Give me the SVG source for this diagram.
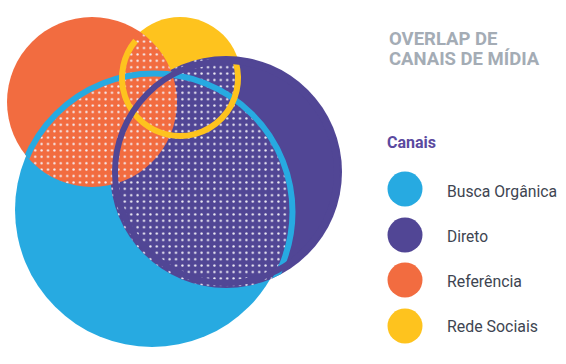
<svg xmlns="http://www.w3.org/2000/svg" width="566" height="364" viewBox="0 0 566 364">
  <defs>
    <style>
      .title{font-family:Roboto,"Liberation Sans",sans-serif;font-weight:700;font-size:18.5px;fill:#A4ACB5}
      .head{font-family:Roboto,"Liberation Sans",sans-serif;font-weight:700;font-size:16px;fill:#5B4A9F}
      .lbl{font-family:Roboto,"Liberation Sans",sans-serif;font-size:17px;fill:#3E4551}
      .arc{fill:none;stroke-width:6}
    </style>
    <pattern id="dots" x="0" y="0" width="6.4" height="6.4" patternUnits="userSpaceOnUse">
      <circle cx="3.2" cy="3.2" r="1.15" fill="#F4F2F8"/>
    </pattern>
    <clipPath id="cpOP">
      <circle cx="92" cy="102" r="85"/>
      <circle cx="226" cy="172" r="116"/>
    </clipPath>
    <clipPath id="cpBY">
      <circle cx="154" cy="212" r="135.5"/>
      <circle cx="180" cy="78" r="58"/>
    </clipPath>
  </defs>

  <g id="venn">
    <circle id="busca" cx="152" cy="210" r="137" fill="#27AAE1"/>
    <circle id="rede" cx="180" cy="78" r="61" fill="#FEC31E"/>
    <circle id="direto" cx="226" cy="172" r="116" fill="#514695"/>
    <circle id="referencia" cx="92" cy="102" r="85" fill="#F26C40"/>
    <g id="overlap" clip-path="url(#cpOP)">
      <rect x="0" y="0" width="360" height="364" fill="url(#dots)" clip-path="url(#cpBY)"/>
    </g>
    <g id="outlines">
      <g clip-path="url(#cpOP)">
        <circle class="arc" cx="154" cy="212" r="138.5" stroke="#27AAE1"/>
      </g>
      <path class="arc" d="M135.57,40.72 A58,58 0 1 0 236.02,62.99" stroke="#FEC31E"/>
      <circle class="arc" cx="226" cy="172" r="111" stroke="#514695"/>
    </g>
  </g>

  <g id="title">
    <text class="title" x="389" y="45">OVERLAP DE</text>
    <text class="title" x="389" y="65">CANAIS DE MÍDIA</text>
  </g>

  <g id="legend">
    <text class="head" x="387" y="148">Canais</text>
    <g id="leg-busca">
      <circle cx="405" cy="189" r="17.5" fill="#27AAE1"/>
      <text class="lbl" x="447" y="197" textLength="110" lengthAdjust="spacingAndGlyphs">Busca Orgânica</text>
    </g>
    <g id="leg-direto">
      <circle cx="405" cy="235" r="17.5" fill="#514695"/>
      <text class="lbl" x="447" y="242" textLength="41" lengthAdjust="spacingAndGlyphs">Direto</text>
    </g>
    <g id="leg-referencia">
      <circle cx="405" cy="280" r="17.5" fill="#F26C40"/>
      <text class="lbl" x="447" y="287" textLength="75" lengthAdjust="spacingAndGlyphs">Referência</text>
    </g>
    <g id="leg-rede">
      <circle cx="405" cy="326" r="17.5" fill="#FEC31E"/>
      <text class="lbl" x="447" y="332" textLength="91" lengthAdjust="spacingAndGlyphs">Rede Sociais</text>
    </g>
  </g>
</svg>
